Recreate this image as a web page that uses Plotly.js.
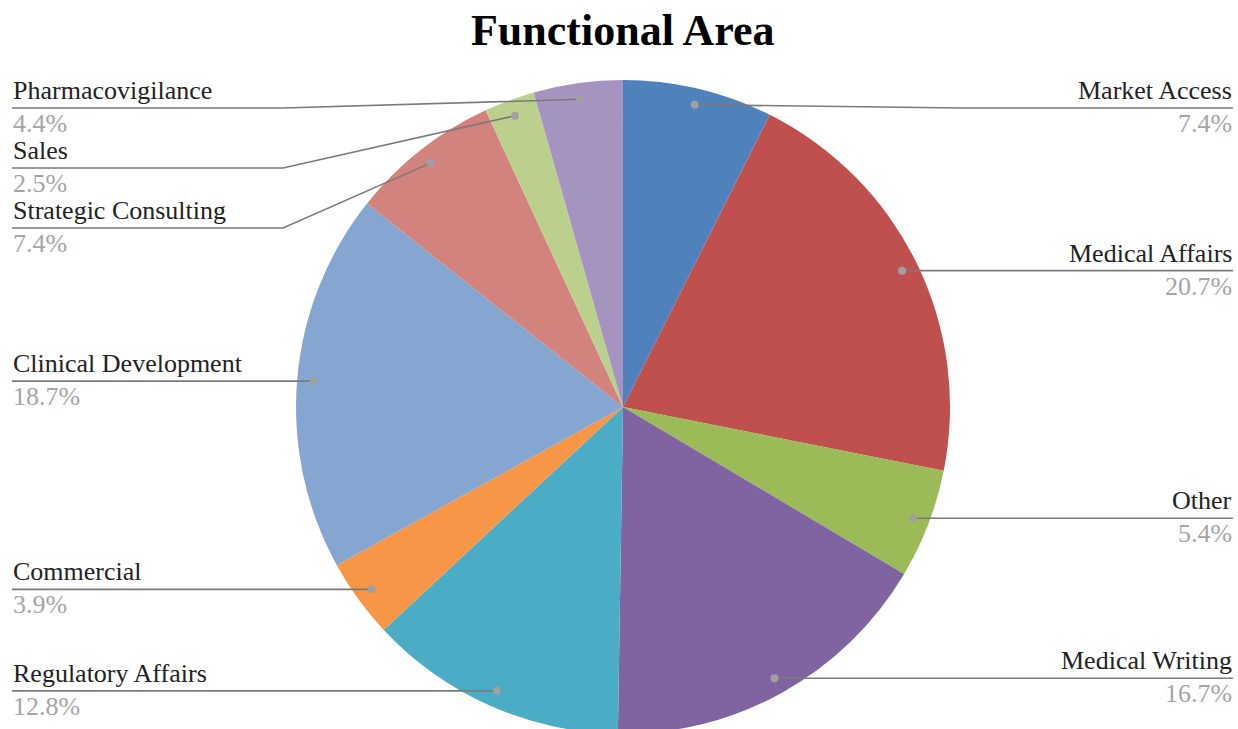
<!DOCTYPE html>
<html>
<head>
<meta charset="utf-8">
<script src="https://cdn.plot.ly/plotly-3.0.1.min.js"></script>
<style>
  html, body { margin: 0; padding: 0; background: #fff; overflow: hidden; }
  #chart { width: 1238px; height: 734px; }
</style>
</head>
<body>
<div id="chart"></div>
<script>
// Share of respondents by functional area (percent)
const categories = [
  'Market Access', 'Medical Affairs', 'Other', 'Medical Writing',
  'Regulatory Affairs', 'Commercial', 'Clinical Development',
  'Strategic Consulting', 'Sales', 'Pharmacovigilance'
];
const shares = [7.4, 20.7, 5.4, 16.7, 12.8, 3.9, 18.7, 7.4, 2.5, 4.4];
const sliceColors = [
  '#4F81BD', '#C0504D', '#9BBB59', '#8064A2', '#4BACC6',
  '#F79646', '#84A6D0', '#D3837E', '#BBD08D', '#A694C0'
];

// The figure runs a few pixels past the bottom of the view so the pie's lowest edge is trimmed
const W = 1238, H = 734;
const FONT = 'Liberation Serif';
const LABEL_SIZE = 26;

// Pie placement (paper fractions)
const domainX = [0.2351, 0.7714];
const domainY = [0, 0.891];

// Pie geometry in pixels, derived from the domain the same way the pie is sized
const pw = (domainX[1] - domainX[0]) * W;
const ph = (domainY[1] - domainY[0]) * H;
const R = Math.min(pw, ph) / 2;
const CX = (domainX[0] + domainX[1]) / 2 * W;
const CY = H - (domainY[0] + domainY[1]) / 2 * H;

const px = x => x / W;
const py = y => 1 - y / H;

// Anchor dots on each slice's middle angle (clockwise from 12 o'clock)
const total = shares.reduce((a, b) => a + b, 0);
let cum = 0;
const anchors = shares.map((v, i) => {
  const mid = (cum + v / 2) / total * 2 * Math.PI;
  cum += v;
  const rr = 0.95 * R;
  return {
    i,
    ang: mid,
    x: CX + rr * Math.sin(mid),
    y: CY - rr * Math.cos(mid),
    right: mid < Math.PI
  };
});

// Label rows: stack from the top on each side so rows never overlap
const ROW_GAP = 60, TOP_ROW = 108;
function place(list) {
  let prev = -Infinity;
  list.forEach(a => {
    a.lineY = Math.max(a.y, TOP_ROW, prev + ROW_GAP);
    prev = a.lineY;
  });
}
const rightSide = anchors.filter(a => a.right).sort((a, b) => a.ang - b.ang);
const leftSide = anchors.filter(a => !a.right).sort((a, b) => b.ang - a.ang);
place(rightSide);
place(leftSide);

const shapes = [];
const annotations = [];
const ELBOW_R = 962, ELBOW_L = 283, END_R = 1233, END_L = 12;

anchors.forEach(a => {
  const elbow = a.right ? ELBOW_R : ELBOW_L;
  const end = a.right ? END_R : END_L;
  shapes.push({
    type: 'path', xref: 'paper', yref: 'paper',
    path: `M ${px(a.x)},${py(a.y)} L ${px(elbow)},${py(a.lineY)} L ${px(end)},${py(a.lineY)}`,
    line: { color: '#7a7a7a', width: 1.6 }
  });
  const dr = 4;
  shapes.push({
    type: 'circle', xref: 'paper', yref: 'paper',
    x0: px(a.x - dr), x1: px(a.x + dr), y0: py(a.y + dr), y1: py(a.y - dr),
    fillcolor: '#a0a0a0', line: { width: 0 }
  });
  annotations.push({
    xref: 'paper', yref: 'paper',
    x: px(end), y: py(a.lineY - 2),
    xanchor: a.right ? 'right' : 'left', yanchor: 'bottom',
    text: categories[a.i], showarrow: false,
    font: { family: FONT, size: LABEL_SIZE, color: '#222' }, borderpad: 0
  });
  annotations.push({
    xref: 'paper', yref: 'paper',
    x: px(end), y: py(a.lineY),
    xanchor: a.right ? 'right' : 'left', yanchor: 'top',
    text: shares[a.i].toFixed(1) + '%', showarrow: false,
    font: { family: FONT, size: LABEL_SIZE, color: '#a5a5a5' }, borderpad: 0
  });
});

const data = [{
  type: 'pie',
  labels: categories,
  values: shares,
  sort: false,
  direction: 'clockwise',
  rotation: 0,
  textinfo: 'none',
  hoverinfo: 'label+percent',
  marker: { colors: sliceColors, line: { color: '#ffffff', width: 0 } },
  domain: { x: domainX, y: domainY },
  showlegend: false
}];

const layout = {
  width: W, height: H,
  margin: { l: 0, r: 0, t: 0, b: 0 },
  paper_bgcolor: '#ffffff',
  font: { family: FONT },
  title: {
    text: '<b>Functional Area</b>',
    font: { family: FONT, size: 44, color: '#000' },
    x: 0.503, xanchor: 'center',
    y: 1 - 30 / H, yanchor: 'middle', yref: 'container'
  },
  shapes, annotations
};

Plotly.newPlot('chart', data, layout, { displayModeBar: false, staticPlot: true });
</script>
</body>
</html>
